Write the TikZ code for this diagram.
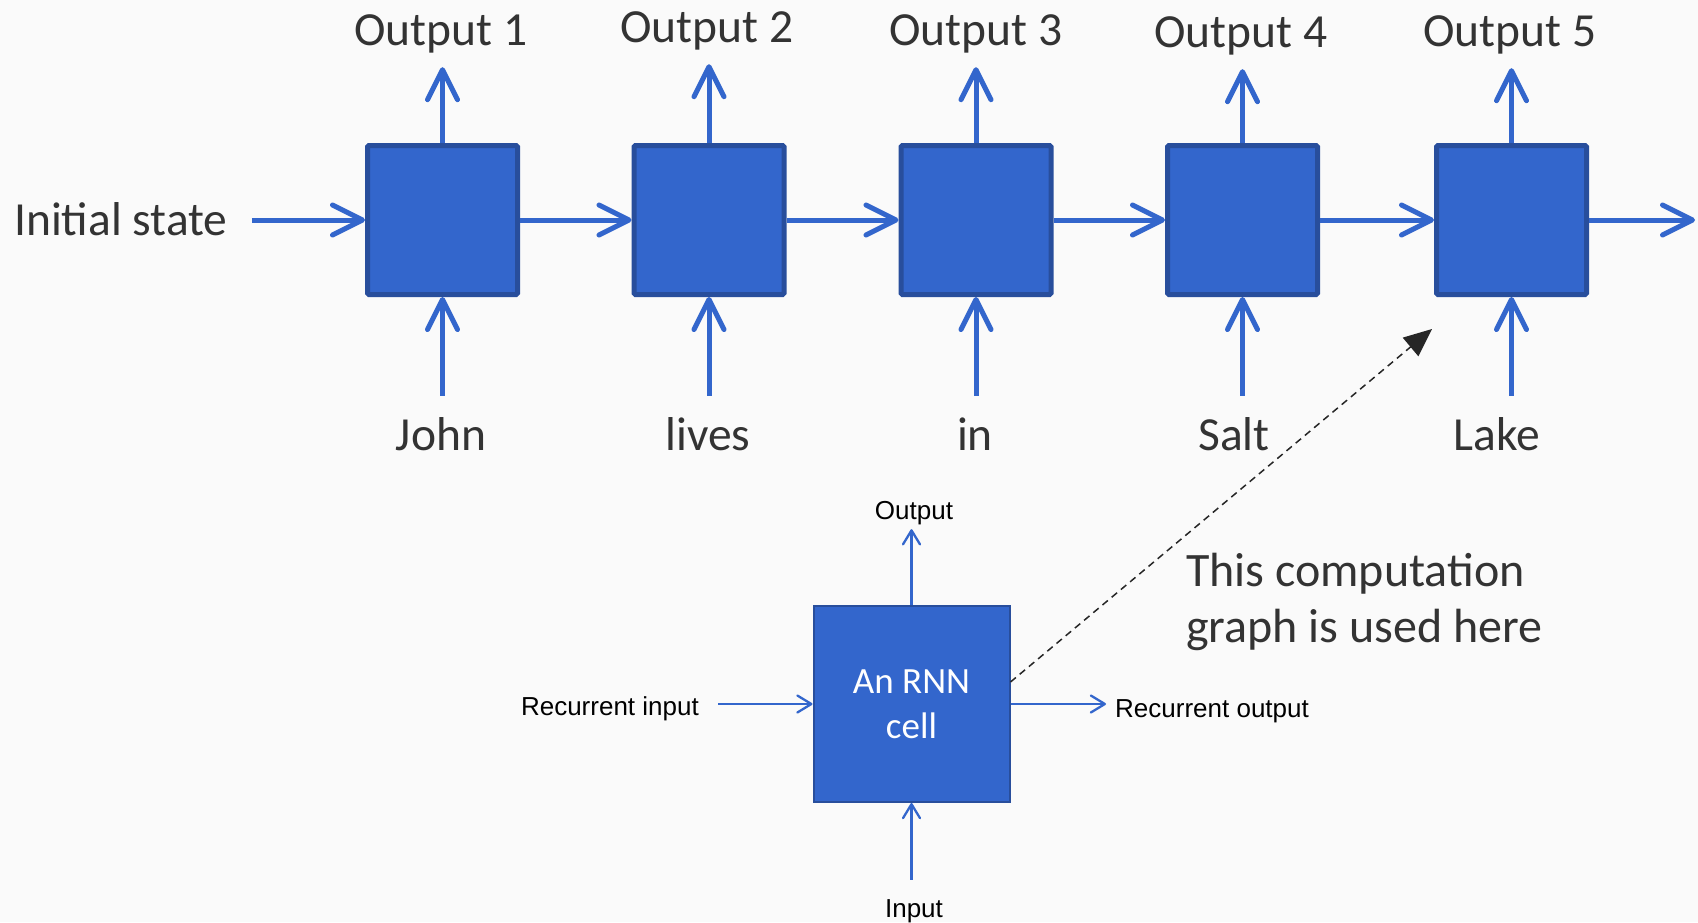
\documentclass[tikz,border=0pt]{standalone}
\usepackage{fontspec}
\setmainfont{Carlito}
\newfontfamily\arialf{Liberation Sans}
\usetikzlibrary{arrows.meta}
\definecolor{bg}{HTML}{FAFAFA}
\definecolor{cellblue}{HTML}{3366CC}
\definecolor{cellborder}{HTML}{284E9C}
\definecolor{arrblue}{HTML}{3366CC}
\definecolor{txt}{HTML}{333333}
\definecolor{dash}{HTML}{262626}
\begin{document}
\begin{tikzpicture}[x=1pt,y=-1pt,
  cellbox/.style={draw=cellborder, fill=cellblue, line width=5pt, minimum width=150pt, minimum height=149pt, rounded corners=1.5pt, inner sep=0pt},
  bigcell/.style={draw=cellborder, fill=cellblue, line width=2pt, minimum width=196pt, minimum height=196pt, inner sep=0pt, text=white, align=center, font=\fontsize{37pt}{45pt}\selectfont},
  bigarr/.style={draw=arrblue, line width=5pt, -{Straight Barb[length=30pt,width=30pt,round]}},
  smallarr/.style={draw=arrblue, line width=2.3pt, -{Straight Barb[length=14pt,width=17pt,round]}},
  biglab/.style={font=\fontsize{47.5pt}{56pt}\selectfont, text=txt, inner sep=0pt, text height=33pt, text depth=0pt, anchor=base},
  smalllab/.style={font=\arialf\fontsize{26pt}{31pt}\selectfont, text=black, inner sep=0pt, text height=19pt, text depth=0pt, anchor=base},
  usedarr/.style={draw=dash, line width=1.5pt, dash pattern=on 7pt off 5pt, -{Triangle[length=28pt,width=24pt]}}
]
\fill[bg] (0,0) rectangle (1698,922);

% top row cells
\node[cellbox] (c1) at (442.5,220) {};
\node[cellbox] (c2) at (709,220) {};
\node[cellbox] (c3) at (976,220) {};
\node[cellbox] (c4) at (1242.5,220) {};
\node[cellbox] (c5) at (1511.5,220) {};

% output labels
\node[biglab] (o1) at (441,45) {Output 1};
\node[biglab] (o2) at (707,42) {Output 2};
\node[biglab] (o3) at (976,45) {Output 3};
\node[biglab] (o4) at (1241,47) {Output 4};
\node[biglab] (o5) at (1510,46) {Output 5};

% word labels
\node[biglab] (w1) at (441,450) {John};
\node[biglab] (w2) at (708,450) {lives};
\node[biglab] (w3) at (975,450) {in};
\node[biglab] (w4) at (1234,450) {Salt};
\node[biglab] (w5) at (1497,450) {Lake};

\node[biglab, anchor=base west] (init) at (14,235) {Initial state};
\coordinate (fin) at (1695,220);

% arrows top row
\foreach \i in {1,...,5}{
  \draw[bigarr, shorten >=22pt] (c\i.north) -- (c\i.north |- o\i.south);
  \draw[bigarr, shorten <=21pt] (c\i.south |- w\i.north) -- (c\i.south);
}
\draw[bigarr, shorten <=24pt] (init.east |- c1.west) -- (c1.west);
\draw[bigarr] (c1.east) -- (c2.west);
\draw[bigarr] (c2.east) -- (c3.west);
\draw[bigarr] (c3.east) -- (c4.west);
\draw[bigarr] (c4.east) -- (c5.west);
\draw[bigarr] (c5.east) -- (fin);

% single RNN cell
\node[bigcell] (cell) at (911.5,704) {An RNN\\cell};
\node[smalllab] (out) at (914,519) {Output};
\node[smalllab] (inp) at (914,917) {Input};
\node[smalllab, anchor=base east] (ri) at (699,715) {Recurrent input};
\node[smalllab, anchor=base west] (ro) at (1115,717) {Recurrent output};

\draw[smallarr, shorten >=10pt] (cell.north) -- (cell.north |- out.south);
\draw[smallarr, shorten <=18pt] (cell.south |- inp.north) -- (cell.south);
\draw[smallarr, shorten <=19pt] (ri.east |- cell.west) -- (cell.west);
\draw[smallarr, shorten >=9pt] (cell.east) -- (ro.west |- cell.east);

% note
\node[font=\fontsize{48pt}{56pt}\selectfont, text=txt, inner sep=0pt, align=left, anchor=base west] (note) at (1186,642) {This computation\\graph is used here};

\draw[usedarr] ([yshift=22pt]cell.east) -- ([xshift=-2pt,yshift=-32pt]c5.south west);
\end{tikzpicture}
\end{document}
